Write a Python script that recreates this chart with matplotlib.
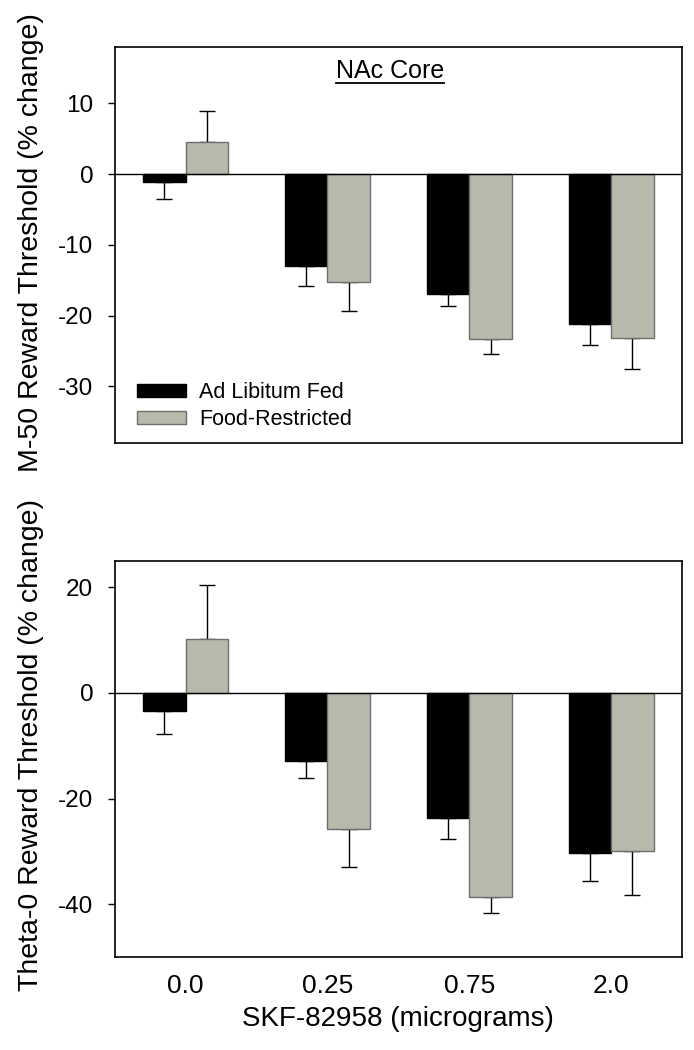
import matplotlib
matplotlib.use("Agg")
import matplotlib.pyplot as plt
from matplotlib.patches import Patch
from matplotlib.lines import Line2D
import numpy as np

plt.rcParams['font.family'] = ['Liberation Sans', 'DejaVu Sans']

doses = ["0.0", "0.25", "0.75", "2.0"]
series = ["Ad Libitum Fed", "Food-Restricted"]

# Top panel: M-50 reward threshold (% change)
m50_adlib = [-1.1, -13.05, -16.9, -21.15]
m50_adlib_sem = [2.4, 2.8, 1.7, 3.05]
m50_food = [4.5, -15.2, -23.3, -23.2]
m50_food_sem = [4.4, 4.2, 2.1, 4.3]

# Bottom panel: Theta-0 reward threshold (% change)
th0_adlib = [-3.5, -12.8, -23.7, -30.4]
th0_adlib_sem = [4.2, 3.3, 3.9, 5.3]
th0_food = [10.3, -25.8, -38.6, -30.0]
th0_food_sem = [10.2, 7.2, 3.1, 8.2]

top_ticks = [10, 0, -10, -20, -30]
bot_ticks = [20, 0, -20, -40]

BLACK = "#000000"
GRAY = "#B8B8AB"
GRAY_EDGE = "#6E6E6E"

fig = plt.figure(figsize=(6.94, 10.5), dpi=100)
ax1 = fig.add_axes([0.1653, 0.5781, 0.8174, 0.3774])
ax2 = fig.add_axes([0.1653, 0.0886, 0.8174, 0.3771])

x = np.arange(len(doses))
w = 0.3


def draw(ax, adlib, adlib_sem, food, food_sem, ylim, ticks):
    for vals, sems, off, fc, ec in [(adlib, adlib_sem, -w / 2, BLACK, BLACK),
                                    (food, food_sem, w / 2, GRAY, GRAY_EDGE)]:
        vals = np.array(vals)
        sems = np.array(sems)
        ax.bar(x + off, vals, width=w, color=fc, edgecolor=ec, linewidth=1.0, zorder=2)
        lower = np.where(vals < 0, sems, 0)
        upper = np.where(vals >= 0, sems, 0)
        ax.errorbar(x + off, vals, yerr=[lower, upper], fmt='none', ecolor='black',
                    elinewidth=1.0, capsize=6, capthick=1.0, zorder=1)
    ax.axhline(0, color='black', linewidth=1.0, zorder=3)
    ax.set_xlim(-0.5, 3.5)
    ax.set_ylim(*ylim)
    ax.set_yticks(ticks)
    ax.set_yticklabels([str(t) for t in ticks])
    ax.tick_params(axis='y', direction='out', length=5, width=1.0, pad=10.5, labelsize=17.5)
    for s in ax.spines.values():
        s.set_linewidth(1.2)


draw(ax1, m50_adlib, m50_adlib_sem, m50_food, m50_food_sem, (-38, 18), top_ticks)
draw(ax2, th0_adlib, th0_adlib_sem, th0_food, th0_food_sem, (-50, 25), bot_ticks)

ax1.set_xticks([])
ax2.set_xticks(x)
ax2.set_xticklabels(doses)
ax2.tick_params(axis='x', length=0, pad=12, labelsize=19)
ax2.set_xlabel("SKF-82958 (micrograms)", fontsize=20, labelpad=6)

fig.text(0.0447, 0.769, "M-50 Reward Threshold (% change)", rotation=90,
         ha='center', va='center', fontsize=20.5)
fig.text(0.0447, 0.2905, "Theta-0 Reward Threshold (% change)", rotation=90,
         ha='center', va='center', fontsize=20.5)

# Legend
handles = [Patch(facecolor=BLACK, edgecolor=BLACK, linewidth=1.0),
           Patch(facecolor=GRAY, edgecolor=GRAY_EDGE, linewidth=1.0)]
ax1.legend(handles, series, loc='upper left', bbox_to_anchor=(0.039, 0.153),
           frameon=False, fontsize=15.5, handlelength=2.28, handleheight=0.55,
           handletextpad=0.6, labelspacing=0.26, borderpad=0, borderaxespad=0)

# Underlined panel title
t = ax1.text(0.485, 0.921, "NAc Core", transform=ax1.transAxes, ha='center',
             va='baseline', fontsize=18)
fig.canvas.draw()
bb = t.get_window_extent(renderer=fig.canvas.get_renderer())
inv = fig.transFigure.inverted()
(x0, y0), (x1, _) = inv.transform([(bb.x0, bb.y0), (bb.x1, bb.y0)])
y_line = inv.transform([(0, bb.y0 + 0.5)])[0][1]
fig.add_artist(Line2D([x0, x1], [y_line, y_line], transform=fig.transFigure,
                      color='black', linewidth=1.3))

fig.savefig("out.png", dpi=100)
